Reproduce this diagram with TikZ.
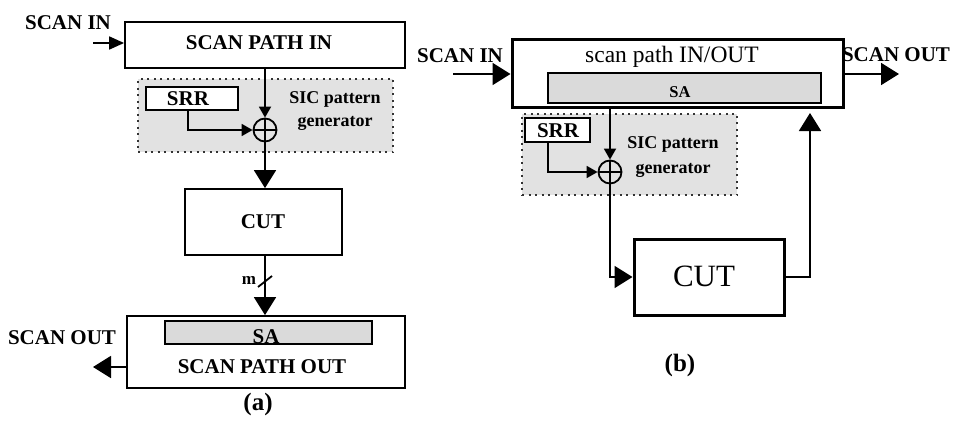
\documentclass[tikz,border=0pt]{standalone}
\usepackage{fontspec}
\setmainfont{Liberation Serif}
\usetikzlibrary{arrows.meta,calc}

\definecolor{sicgray}{RGB}{226,226,226}
\definecolor{sagray}{RGB}{218,218,218}

\tikzset{
  blk/.style={draw, line width=1.8pt, inner sep=0pt, fill=white},
  thickblk/.style={draw, line width=3pt, inner sep=0pt, fill=white},
  sabox/.style={draw, line width=1.8pt, inner sep=0pt, fill=sagray},
  sicbox/.style={draw=black!80, line width=2pt, dash pattern=on 2pt off 4.5pt,
                 fill=sicgray, inner sep=0pt},
  xorgate/.style={circle, draw, line width=1.8pt, minimum size=23pt, inner sep=0pt,
                  path picture={\draw[line width=1.5pt]
                    (path picture bounding box.north) -- (path picture bounding box.south)
                    (path picture bounding box.west) -- (path picture bounding box.east);}},
  lbl/.style={inner sep=0pt, font=\fontsize{21}{25}\selectfont\bfseries},
  siclbl/.style={inner sep=0pt, align=center, font=\fontsize{18}{23}\selectfont\bfseries},
  wire/.style={line width=1.8pt},
  barr/.style={wire, -{Triangle[length=18pt,width=22pt]}},
  marr/.style={wire, -{Triangle[length=15pt,width=13pt]}},
  sarr/.style={wire, -{Triangle[length=11pt,width=12pt]}},
}

\begin{document}
\begin{tikzpicture}[x=1pt,y=-1pt]
  \useasboundingbox[fill=white] (0,0) rectangle (953,423);

  % ---------------- (a) ----------------
  \node[blk, minimum width=280pt, minimum height=46pt] (pinA) at (265,45) {};
  \node[lbl] (pinAt) at (259,43) {SCAN PATH IN};
  \node[lbl] (sinAt) at (68,22.5) {SCAN IN};
  \coordinate (sinA) at (93,43);

  \node[sicbox, minimum width=255pt, minimum height=73pt] (sicA) at (265.5,115.5) {};
  \node[blk, minimum width=92pt, minimum height=23pt] (srrA) at (192,98.5) {};
  \node[lbl] (srrAt) at (188,99) {SRR};
  \node[siclbl] (sicAt) at (335,111) {SIC pattern\\generator};
  \node[xorgate] (xorA) at (265,130) {};

  \node[blk, minimum width=157pt, minimum height=66pt] (cutA) at (263.5,222) {};
  \node[lbl] (cutAt) at (263,222) {CUT};

  \node[blk, minimum width=278pt, minimum height=72pt] (spoA) at (266,352) {};
  \node[sabox, minimum width=207pt, minimum height=23pt] (saA) at (268.5,332.5) {};
  \node[lbl] (saAt) at (266,337) {SA};
  \node[lbl] (spoAt) at (262,367) {SCAN PATH OUT};
  \node[lbl] (soutAt) at (62,338) {SCAN OUT};
  \coordinate (soutA) at (93,367);

  \node[lbl, font=\fontsize{25}{30}\selectfont\bfseries] (capA) at (258,404) {(a)};

  \draw[marr] (sinA) -- (sinA -| pinA.west);
  \draw[sarr] (pinA.south -| xorA) -- (xorA.north);
  \draw[sarr] ([xshift=-4pt]srrA.south) |- (xorA.west);
  \draw[barr] (xorA.south) -- (xorA.south |- cutA.north);
  \draw[barr] (cutA.south -| xorA) -- (xorA |- spoA.north);
  \draw[wire] (258,287) -- (272,276);
  \node[inner sep=0pt, font=\fontsize{17}{20}\selectfont\bfseries] (mA) at (249,280) {m};
  \draw[barr] ($(spoA.west)+(0,15)$) -- (soutA);

  % ---------------- (b) ----------------
  \node[thickblk, minimum width=331pt, minimum height=68pt] (pioB) at (677.5,73) {};
  \node[inner sep=0pt, font=\fontsize{23.5}{28}\selectfont] (pioBt) at (672,57) {scan path IN/OUT};
  \node[sabox, minimum width=273pt, minimum height=30pt] (saB) at (684.5,88) {};
  \node[inner sep=0pt, font=\fontsize{16.5}{20}\selectfont\bfseries] (saBt) at (680,92) {SA};

  \node[lbl] (sinBt) at (460,55.5) {SCAN IN};
  \coordinate (sinB) at (453,74);
  \node[lbl] (soutBt) at (896,55) {SCAN OUT};
  \coordinate (soutB) at (899,74);

  \node[sicbox, minimum width=215pt, minimum height=81pt] (sicB) at (629.5,154.5) {};
  \node[blk, minimum width=65pt, minimum height=24pt] (srrB) at (557.5,130) {};
  \node[lbl] (srrBt) at (558,130.5) {SRR};
  \node[siclbl, font=\fontsize{18}{25}\selectfont\bfseries] (sicBt) at (673,157) {SIC pattern\\generator};
  \node[xorgate] (xorB) at (610,172) {};

  \node[thickblk, minimum width=150pt, minimum height=76pt] (cutB) at (709,277) {};
  \node[inner sep=0pt, font=\fontsize{31}{36}\selectfont] (cutBt) at (704,276) {CUT};
  \coordinate (fbkB) at (810,113);

  \node[lbl, font=\fontsize{25}{30}\selectfont\bfseries] (capB) at (680,365) {(b)};

  \draw[barr] (sinB) -- (sinB -| pioB.west);
  \draw[barr] (soutB -| pioB.east) -- (soutB);
  \draw[sarr] (pioB.south -| xorB) -- (xorB.north);
  \draw[sarr] (srrB.south -| 548,0) |- (xorB.west);
  \draw[barr] (xorB.south) |- (cutB.west);
  \draw[barr] (cutB.east) -| (fbkB);
\end{tikzpicture}
\end{document}
